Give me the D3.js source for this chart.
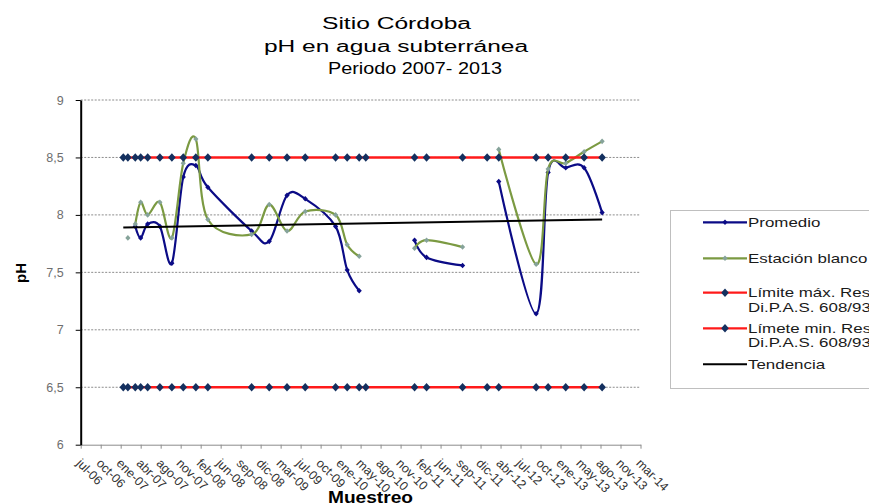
<!DOCTYPE html>
<html><head><meta charset="utf-8">
<script src="https://cdn.jsdelivr.net/npm/d3@7"></script>
<style>html,body{margin:0;padding:0;background:#fff;overflow:hidden}svg{display:block}</style>
</head><body><svg id="c" width="869" height="503"></svg>
<script>
// ---------- DATA ----------
const fechas = ["2007-01-31","2007-02-23","2007-04-01","2007-04-28","2007-06-02","2007-08-02","2007-10-01","2007-11-27",
  "2008-01-29","2008-03-29","2008-11-03","2009-01-30","2009-04-29","2009-07-29","2009-12-28","2010-02-24",
  "2010-04-25","2010-05-28","2011-01-27","2011-03-28","2011-09-24","2012-01-25","2012-03-23","2012-09-26",
  "2012-11-25","2013-02-21","2013-05-24","2013-08-22"];
const promedio = [null,null,7.90,7.80,7.92,7.90,7.58,8.33,8.43,8.24,7.86,7.77,8.17,8.14,7.90,7.52,
  7.34,null,7.78,7.63,7.56,null,8.29,7.14,8.37,8.41,8.41,8.02];
const blancoFechas = ["2007-01-31","2007-02-23","2007-03-12","2007-04-01","2007-04-28","2007-06-02","2007-08-02","2007-10-01","2007-11-27",
  "2008-01-29","2008-03-29","2008-11-03","2009-01-30","2009-04-29","2009-07-29","2009-12-28","2010-02-24",
  "2010-04-25","2010-05-28","2011-01-27","2011-03-28","2011-09-24","2012-01-25","2012-03-23","2012-09-26",
  "2012-11-25","2013-02-21","2013-05-24","2013-08-22"];
const blanco = [null,7.80,null,7.92,8.11,8.00,8.11,7.80,8.45,8.66,7.96,7.83,8.09,7.86,8.03,8.00,7.74,
  7.64,null,7.71,7.78,7.72,null,8.57,7.57,8.40,8.45,8.55,8.64];
const limiteMax = [8.5,8.5,8.5,8.5,8.5,8.5,8.5,8.5,8.5,8.5,8.5,8.5,8.5,8.5,8.5,8.5,8.5,8.5,8.5,8.5,8.5,8.5,8.5,8.5,8.5,8.5,8.5,8.5];
const limiteMin = [6.5,6.5,6.5,6.5,6.5,6.5,6.5,6.5,6.5,6.5,6.5,6.5,6.5,6.5,6.5,6.5,6.5,6.5,6.5,6.5,6.5,6.5,6.5,6.5,6.5,6.5,6.5,6.5];
const tendenciaFechas = ["2007-01-31","2013-08-22"];
const tendencia = [7.89,7.96];
const etiquetasX = ["jul-06","oct-06","ene-07","abr-07","ago-07","nov-07","feb-08","jun-08","sep-08","dic-08",
  "mar-09","jul-09","oct-09","ene-10","may-10","ago-10","nov-10","feb-11","jun-11","sep-11","dic-11",
  "abr-12","jul-12","oct-12","ene-13","may-13","ago-13","nov-13","mar-14"];
const ticksY = [6,6.5,7,7.5,8,8.5,9];
const etiquetasY = ["6","6,5","7","7,5","8","8,5","9"];
const ejeXInicio = "2006-07-02", ejeXFin = "2014-03-03", ejeXPasoDias = 100;

// ---------- SETUP ----------
const parse = d3.utcParse("%Y-%m-%d");
const svg = d3.select("#c");
svg.append("rect").attr("width",869).attr("height",503).attr("fill","#fff");
const L = 80.7, R = 640.7, T = 100, B = 444.7;
const x = d3.scaleUtc().domain([parse(ejeXInicio), parse(ejeXFin)]).range([L, R]);
const y = d3.scaleLinear().domain([6, 9]).range([B, T]);
const FONT = "'Liberation Sans', Arial, sans-serif";

// gridlines
svg.append("g").selectAll("line").data(ticksY.filter(v => v > 6)).join("line")
  .attr("x1", L).attr("x2", R).attr("y1", d => y(d)).attr("y2", d => y(d))
  .attr("stroke", "#8c8c8c").attr("stroke-width", 1).attr("stroke-dasharray", "2,1.5");

// x axis
const tickDates = etiquetasX.map((_, i) => d3.utcDay.offset(parse(ejeXInicio), ejeXPasoDias * i));
const gx = svg.append("g").attr("transform", `translate(0,${B})`)
  .call(d3.axisBottom(x).tickValues(tickDates).tickSize(4).tickSizeOuter(0).tickFormat(""));
gx.select(".domain").attr("stroke", "#8c8c8c");
gx.selectAll(".tick line").attr("stroke", "#8c8c8c");
svg.append("g").selectAll("text").data(tickDates).join("text")
  .attr("transform", (d) => `translate(${x(d) - 5},${464}) rotate(45)`)
  .attr("font-family", FONT).attr("font-size", 12.5).attr("fill", "#333")
  .text((d, i) => etiquetasX[i]);

// y axis
const gy = svg.append("g").attr("transform", `translate(${L},0)`)
  .call(d3.axisLeft(y).tickValues(ticksY).tickSize(5).tickSizeOuter(0).tickPadding(12)
    .tickFormat((d, i) => etiquetasY[i]));
gy.select(".domain").attr("stroke", "#000").attr("stroke-width", 2);
gy.selectAll(".tick line").attr("stroke", "#000");
gy.selectAll(".tick text").attr("font-family", FONT).attr("font-size", 12.5).attr("fill", "#6e6e6e");

// titles
const titulo = [["Sitio Córdoba", 322, 29, 149], ["pH en agua subterránea", 264, 52, 264], ["Periodo 2007- 2013", 328, 74, 174]];
svg.append("g").selectAll("text").data(titulo).join("text")
  .attr("x", d => d[1]).attr("y", d => d[2]).attr("textLength", d => d[3]).attr("lengthAdjust", "spacingAndGlyphs")
  .attr("font-family", FONT).attr("font-size", 16).attr("fill", "#000").text(d => d[0]);
svg.append("text").attr("transform", "translate(26,273) rotate(-90)").attr("text-anchor", "middle")
  .attr("font-family", FONT).attr("font-size", 15).attr("font-weight", "bold").text("pH");
svg.append("text").attr("x", 328).attr("y", 503).attr("textLength", 85).attr("lengthAdjust", "spacingAndGlyphs")
  .attr("font-family", FONT).attr("font-size", 17).attr("font-weight", "bold").text("Muestreo");

// ---------- SERIES ----------
const curve = d3.curveCardinal.tension(0);
function serie(fs, vs) { return fs.map((f, i) => ({ d: parse(f), v: vs[i] })); }
const pts = {
  prom: serie(fechas, promedio),
  blan: serie(blancoFechas, blanco),
  max: serie(fechas, limiteMax),
  min: serie(fechas, limiteMin),
  tend: serie(tendenciaFechas, tendencia)
};
const lineGen = (c) => d3.line().defined(p => p.v != null).x(p => x(p.d)).y(p => y(p.v)).curve(c);
const smallDiamond = "M0,-2.8L2.6,0L0,2.8L-2.6,0Z";
const bigDiamond = "M0,-4.3L3.8,0L0,4.3L-3.8,0Z";
const COL = { prom: "#0b0b86", blan: "#7b9a42", blanMk: "#86a39a", red: "#ff1a1a", navy: "#14305f" };

// promedio
svg.append("path").attr("d", lineGen(curve)(pts.prom)).attr("fill", "none").attr("stroke", COL.prom).attr("stroke-width", 2.2);
svg.append("g").selectAll("path").data(pts.prom.filter(p => p.v != null)).join("path")
  .attr("d", smallDiamond).attr("transform", p => `translate(${x(p.d)},${y(p.v)})`).attr("fill", COL.prom);
// blanco
svg.append("path").attr("d", lineGen(curve)(pts.blan)).attr("fill", "none").attr("stroke", COL.blan).attr("stroke-width", 2.2);
svg.append("g").selectAll("path").data(pts.blan.filter(p => p.v != null)).join("path")
  .attr("d", smallDiamond).attr("transform", p => `translate(${x(p.d)},${y(p.v)})`).attr("fill", COL.blanMk);
// limits
["max", "min"].forEach(k => {
  svg.append("path").attr("d", lineGen(d3.curveLinear)(pts[k])).attr("fill", "none").attr("stroke", COL.red).attr("stroke-width", 2.5);
  svg.append("g").selectAll("path").data(pts[k]).join("path")
    .attr("d", bigDiamond).attr("transform", p => `translate(${x(p.d)},${y(p.v)})`).attr("fill", COL.navy);
});
// trend
svg.append("path").attr("d", lineGen(d3.curveLinear)(pts.tend)).attr("fill", "none").attr("stroke", "#000").attr("stroke-width", 2);

// ---------- LEGEND ----------
const lg = svg.append("g");
lg.append("rect").attr("x", 670.5).attr("y", 210.5).attr("width", 240).attr("height", 178)
  .attr("fill", "#fff").attr("stroke", "#7f7f7f").attr("stroke-dasharray", "1,1");
const leyenda = [
  { t: ["Promedio"], y: 222.3, c: COL.prom, mk: smallDiamond, mc: COL.prom },
  { t: ["Estación blanco"], y: 258.3, c: COL.blan, mk: smallDiamond, mc: COL.blanMk },
  { t: ["Límite máx. Res", "Di.P.A.S. 608/93"], y: 292.7, c: COL.red, mk: bigDiamond, mc: COL.navy },
  { t: ["Límete min. Res", "Di.P.A.S. 608/93"], y: 328.3, c: COL.red, mk: bigDiamond, mc: COL.navy },
  { t: ["Tendencia"], y: 364.3, c: "#000", mk: null }
];
leyenda.forEach(e => {
  lg.append("line").attr("x1", 703).attr("x2", 747).attr("y1", e.y).attr("y2", e.y)
    .attr("stroke", e.c).attr("stroke-width", e.c === "#000" ? 2 : 2.2);
  if (e.mk) lg.append("path").attr("d", e.mk).attr("transform", `translate(725,${e.y})`).attr("fill", e.mc);
  e.t.forEach((s, j) => {
    lg.append("text").attr("transform", `translate(748,${e.y + j * 14.8}) scale(1.41,1)`)
      .attr("dy", "0.36em").attr("font-family", FONT).attr("font-size", 12).attr("fill", "#1a1a1a").text(s);
  });
});
</script></body></html>
